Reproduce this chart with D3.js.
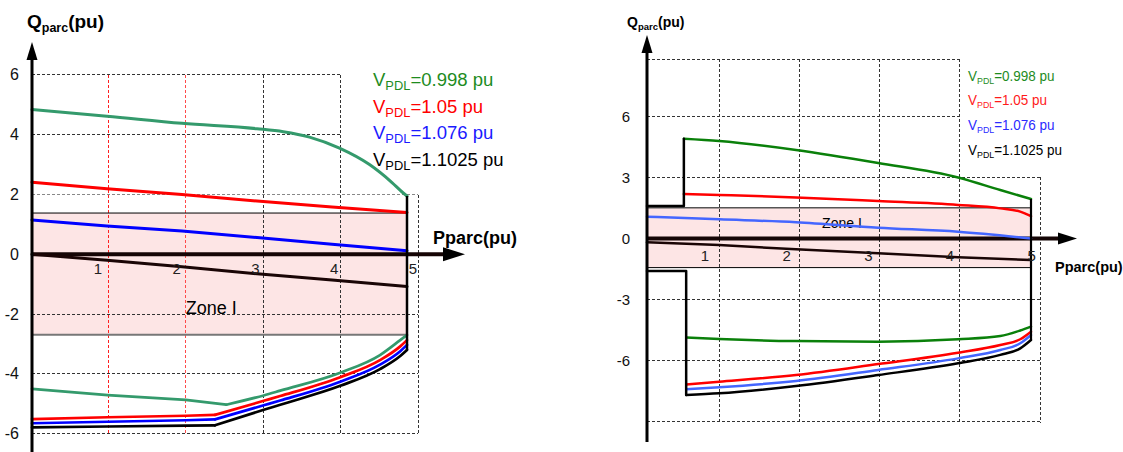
<!DOCTYPE html>
<html><head><meta charset="utf-8">
<script src="https://cdn.jsdelivr.net/npm/d3@7"></script>
<style>body{margin:0;background:#fff}svg{display:block;font-family:"Liberation Sans",Arial,sans-serif}</style>
</head><body><svg id="c" width="1123" height="452"></svg>
<script>
// ---------- data ----------
const xTickLabels = [1, 2, 3, 4, 5];
const leftYTicks = [6, 4, 2, 0, -2, -4, -6];
const rightYTicks = [6, 3, 0, -3, -6];
const leftGridY = [6, 4, 2, -2, -4, -6];
const rightGridY = [8.8, 6, 3, -3, -6, -9];
const legendValues = ["0.998", "1.05", "1.076", "1.1025"];

const leftZone = [-2.69, 1.38];
const rightZone = [-1.43, 1.51];

// left chart series [P, Q]
const leftGreenUp = [[0,4.84],[1,4.62],[2,4.38],[3,4.2],[3.35,4.1],[3.7,3.92],[4.1,3.55],[4.5,3.0],[4.8,2.4],[4.95,2.05],[5,1.95]];
const leftRedUp = [[0,2.41],[1,2.19],[2,2.0],[3,1.78],[4,1.58],[5,1.40]];
const leftBlueUp = [[0,1.15],[1,0.95],[2,0.78],[3,0.56],[4,0.34],[5,0.12]];
const leftBlackUp = [[0,0],[1,-0.2],[2,-0.42],[3,-0.65],[4,-0.86],[5,-1.08]];
const leftGreenLow = [[0,-4.5],[1.01,-4.71],[2.05,-4.87],[2.59,-5.03],[3.09,-4.72],[3.31,-4.56],[4.11,-3.96],[4.64,-3.37],[4.91,-2.87],[5,-2.7]];
const leftRedLow = [[0,-5.51],[1.01,-5.45],[2.05,-5.40],[2.44,-5.37],[3.09,-4.90],[3.31,-4.74],[4.11,-4.11],[4.64,-3.54],[4.91,-3.08],[5,-2.87]];
const leftBlueLow = [[0,-5.65],[1.01,-5.6],[2.05,-5.55],[2.44,-5.52],[3.09,-5.05],[3.31,-4.89],[4.11,-4.26],[4.64,-3.69],[4.91,-3.24],[5,-3.03]];
const leftBlackLow = [[0,-5.79],[1.01,-5.76],[2.05,-5.73],[2.44,-5.72],[3.09,-5.20],[3.31,-5.03],[4.11,-4.40],[4.64,-3.84],[4.91,-3.4],[5,-3.2]];
const leftLowKnee = 3; // index of the sharp corner in each lower series

// right chart series [P, Q]
const rightGreenUp = [[0.48,4.9],[0.94,4.79],[1.94,4.35],[3.01,3.71],[4.05,3.0],[4.6,2.38],[5,1.94]];
const rightRedUp = [[0.48,2.19],[0.94,2.14],[1.94,2.02],[3.01,1.84],[4.05,1.65],[4.6,1.48],[4.86,1.32],[5,1.1]];
const rightBlueUp = [[0,1.07],[0.94,0.94],[1.94,0.8],[3.01,0.53],[4.05,0.33],[5,0.0]];
const rightBlackUp = [[0,-0.19],[0.94,-0.32],[1.94,-0.53],[3.01,-0.73],[4.05,-0.92],[5,-1.06]];
const rightGreenLow = [[0.51,-4.87],[0.94,-4.94],[1.94,-5.04],[3.01,-5.07],[4.05,-4.95],[4.6,-4.79],[4.86,-4.52],[5,-4.33]];
const rightRedLow = [[0.51,-7.17],[0.94,-7.04],[1.94,-6.71],[3.01,-6.17],[4.05,-5.61],[4.6,-5.23],[4.86,-4.95],[5,-4.58]];
const rightBlueLow = [[0.51,-7.41],[0.94,-7.31],[1.94,-7.0],[3.01,-6.46],[4.05,-5.89],[4.6,-5.48],[4.86,-5.15],[5,-4.74]];
const rightBlackLow = [[0.51,-7.69],[0.94,-7.61],[1.94,-7.25],[3.01,-6.71],[4.05,-6.13],[4.6,-5.72],[4.86,-5.4],[5,-4.99]];
const rightStepUpper = [[0,1.6],[0.48,1.6],[0.48,4.9]];
const rightStepLower = [[0,-1.6],[0.51,-1.6],[0.51,-7.69]];

// ---------- drawing ----------
const svg = d3.select("#c");

function drawChart(cfg) {
  const g = svg.append("g");
  const {x, y, gx, lx} = cfg;
  // zone
  g.append("rect").attr("x", x(0)).attr("width", x(5) - x(0))
    .attr("y", y(cfg.zone[1])).attr("height", y(cfg.zone[0]) - y(cfg.zone[1]))
    .attr("fill", "#fde5e5");
  // horizontal grid
  cfg.gridY.forEach(v => {
    const end = (v > cfg.fullGridMax) ? gx(4) : gx(5);
    g.append("line").attr("x1", x(0)).attr("x2", end).attr("y1", y(v)).attr("y2", y(v))
      .attr("stroke", cfg.gridColorY(v)).attr("stroke-width", 1).attr("stroke-dasharray", "3,2")
      .attr("shape-rendering", "crispEdges");
  });
  // vertical grid
  [1,2,3,4,5].forEach(k => {
    const top = k === 5 ? cfg.fullGridMax : d3.max(cfg.gridY);
    g.append("line").attr("x1", gx(k)).attr("x2", gx(k)).attr("y1", y(top)).attr("y2", y(d3.min(cfg.gridY)) + 1)
      .attr("stroke", cfg.gridColorX(k)).attr("stroke-width", 1).attr("stroke-dasharray", "3,2")
      .attr("shape-rendering", "crispEdges");
  });
  // zone borders
  g.append("line").attr("x1", x(0)).attr("x2", x(5)).attr("y1", y(cfg.zone[1])).attr("y2", y(cfg.zone[1]))
    .attr("stroke", cfg.zoneTopColor).attr("stroke-width", cfg.zoneTopW);
  g.append("line").attr("x1", x(0)).attr("x2", x(5)).attr("y1", y(cfg.zone[0])).attr("y2", y(cfg.zone[0]))
    .attr("stroke", cfg.zoneBotColor).attr("stroke-width", cfg.zoneBotW);
  // zone label
  g.append("text").attr("x", x(cfg.zoneLabelP)).attr("y", y(cfg.zoneLabelQ))
    .attr("font-size", cfg.zoneFont).attr("dominant-baseline", "middle").text("Zone I");

  // x axis
  const ax0 = y(0);
  g.append("line").attr("x1", x(0)).attr("x2", cfg.xAxisEnd).attr("y1", ax0).attr("y2", ax0)
    .attr("stroke", "#150505").attr("stroke-width", 4);
  g.append("path").attr("d", `M${cfg.xAxisEnd - 2},${ax0 - cfg.xArrowH}L${cfg.xAxisTip},${ax0}L${cfg.xAxisEnd - 2},${ax0 + cfg.xArrowH}Z`).attr("fill", "#000");

  // curves
  const line = d3.line().x(d => x(d[0])).y(d => y(d[1]));
  cfg.series.forEach(s => {
    const parts = s.knee != null
      ? [[s.data.slice(0, s.knee + 1), d3.curveLinear], [s.data.slice(s.knee), d3.curveMonotoneX]]
      : [[s.data, s.curve || d3.curveLinear]];
    parts.forEach(([pts, cv]) => {
      g.append("path").datum(pts).attr("d", line.curve(cv))
        .attr("fill", "none").attr("stroke", s.color).attr("stroke-width", s.w)
        .attr("stroke-linejoin", "round").attr("stroke-linecap", "round");
    });
  });
  // boundary at P=5
  g.append("line").attr("x1", x(5)).attr("x2", x(5))
    .attr("y1", y(cfg.boundTop)).attr("y2", y(cfg.boundBot))
    .attr("stroke", "#000").attr("stroke-width", cfg.boundW);

  // y axis
  g.append("line").attr("x1", x(0)).attr("x2", x(0)).attr("y1", cfg.yAxisBottom).attr("y2", cfg.yAxisTip + 14)
    .attr("stroke", "#000").attr("stroke-width", 3);
  g.append("path").attr("d", `M${x(0) - 5.5},${cfg.yAxisTip + 18}L${x(0)},${cfg.yAxisTip}L${x(0) + 5.5},${cfg.yAxisTip + 18}Z`).attr("fill", "#000");

  // y tick labels
  cfg.yTicks.forEach(v => {
    g.append("text").attr("x", cfg.yLabelX).attr("y", y(v)).attr("text-anchor", "end")
      .attr("dominant-baseline", "central").attr("font-size", cfg.yTickFont).attr("fill", "#111").text(v);
  });
  // x tick labels
  xTickLabels.forEach(v => {
    g.append("text").attr("x", lx(v)).attr("y", ax0 + cfg.xLabelDy).attr("text-anchor", "middle")
      .attr("dominant-baseline", "central").attr("font-size", cfg.xTickFont).attr("fill", "#222").text(v);
  });

  // titles
  const t = g.append("text").attr("x", cfg.titleX).attr("y", cfg.titleY).attr("font-weight", "bold").attr("font-size", cfg.titleFont);
  t.append("tspan").text("Q");
  t.append("tspan").attr("font-size", cfg.titleSub).attr("dy", cfg.titleSubDy).text("parc");
  t.append("tspan").attr("dy", -cfg.titleSubDy).text("(pu)");
  g.append("text").attr("x", cfg.pLabelX).attr("y", cfg.pLabelY).attr("font-weight", "bold")
    .attr("font-size", cfg.pLabelFont).attr("dominant-baseline", "central").text("Pparc(pu)");

  // legend
  const lg = g.append("g").attr("transform", `translate(${cfg.legX},${cfg.legY}) scale(${cfg.legSX},1)`);
  legendValues.forEach((v, i) => {
    const tt = lg.append("text").attr("x", 0).attr("y", i * cfg.legStep).attr("font-size", cfg.legFont).attr("fill", cfg.legColors[i]);
    tt.append("tspan").text("V");
    tt.append("tspan").attr("font-size", cfg.legSub).attr("dy", cfg.legSubDy).text("PDL");
    tt.append("tspan").attr("dy", -cfg.legSubDy).text("=" + v + " pu");
  });
}

// left chart
const xL = d3.scaleLinear().domain([0, 5]).range([32, 407]);
const yL = d3.scaleLinear().domain([-6, 6]).range([433.7, 74.9]);
const gxL = d3.scaleLinear().domain([0, 5]).range([30.5, 418]);
const lxL = d3.scaleLinear().domain([1, 5]).range([98, 413]);
drawChart({
  x: xL, y: yL, gx: gxL, lx: lxL,
  zone: leftZone, gridY: leftGridY, fullGridMax: 2,
  gridColorY: v => v === 2 ? "#888" : "#333",
  gridColorX: k => k === 1 ? "#ff2020" : (k === 2 ? "#ff4a4a" : "#333"),
  zoneTopColor: "#000", zoneTopW: 1, zoneBotColor: "#777", zoneBotW: 1.8,
  zoneLabelP: 2.05, zoneLabelQ: -1.85, zoneFont: 18,
  xAxisEnd: 445, xAxisTip: 465, xArrowH: 7,
  series: [
    {data: leftGreenUp, color: "#349a6c", w: 3, curve: d3.curveMonotoneX},
    {data: leftRedUp, color: "#ff0000", w: 3},
    {data: leftBlueUp, color: "#0000ff", w: 3},
    {data: leftBlackUp, color: "#1a0505", w: 3},
    {data: leftGreenLow, color: "#349a6c", w: 2.7, knee: leftLowKnee},
    {data: leftRedLow, color: "#ff0000", w: 2.7, knee: leftLowKnee},
    {data: leftBlueLow, color: "#0000ff", w: 2.7, knee: leftLowKnee},
    {data: leftBlackLow, color: "#000", w: 2.7, knee: leftLowKnee}
  ],
  boundTop: leftGreenUp[leftGreenUp.length - 1][1], boundBot: leftBlackLow[leftBlackLow.length - 1][1], boundW: 2.5,
  yAxisBottom: 452, yAxisTip: 42,
  yTicks: leftYTicks, yLabelX: 19, yTickFont: 16,
  xLabelDy: 14, xTickFont: 15,
  titleX: 27, titleY: 28, titleFont: 19, titleSub: 12.5, titleSubDy: 4,
  pLabelX: 433, pLabelY: 238, pLabelFont: 18,
  legX: 373, legY: 86, legStep: 26.6, legFont: 18, legSub: 12.5, legSubDy: 4, legSX: 1.03,
  legColors: ["#1e8c1e", "#ff0000", "#1a1aff", "#000"]
});

// right chart
const xR = d3.scaleLinear().domain([0, 5]).range([647, 1031]);
const yR = d3.scaleLinear().domain([-9, 9]).range([421.65, 55.35]);
const gxR = d3.scaleLinear().domain([0, 5]).range([638.75, 1040]);
const lxR = d3.scaleLinear().domain([1, 5]).range([705, 1031.7]);
drawChart({
  x: xR, y: yR, gx: gxR, lx: lxR,
  zone: rightZone, gridY: rightGridY, fullGridMax: 3,
  gridColorY: v => "#333",
  gridColorX: k => "#333",
  zoneTopColor: "#555", zoneTopW: 1.6, zoneBotColor: "#000", zoneBotW: 1,
  zoneLabelP: 2.28, zoneLabelQ: 0.72, zoneFont: 14,
  xAxisEnd: 1060, xAxisTip: 1077, xArrowH: 6,
  series: [
    {data: rightGreenUp, color: "#0a800a", w: 2.5, curve: d3.curveMonotoneX},
    {data: rightRedUp, color: "#ff0000", w: 2.5, curve: d3.curveMonotoneX},
    {data: rightBlueUp, color: "#4466ff", w: 2.5, curve: d3.curveMonotoneX},
    {data: rightBlackUp, color: "#1a0505", w: 2.5},
    {data: rightGreenLow, color: "#0a800a", w: 2.5, curve: d3.curveMonotoneX},
    {data: rightRedLow, color: "#ff0000", w: 2.5, curve: d3.curveMonotoneX},
    {data: rightBlueLow, color: "#4466ff", w: 2.5, curve: d3.curveMonotoneX},
    {data: rightBlackLow, color: "#000", w: 2.5, curve: d3.curveMonotoneX},
    {data: rightStepUpper, color: "#000", w: 2.5},
    {data: rightStepLower, color: "#000", w: 2.5}
  ],
  boundTop: rightGreenUp[rightGreenUp.length - 1][1], boundBot: rightBlackLow[rightBlackLow.length - 1][1], boundW: 2.2,
  yAxisBottom: 442, yAxisTip: 35,
  yTicks: rightYTicks, yLabelX: 630, yTickFont: 15,
  xLabelDy: 17, xTickFont: 15,
  titleX: 627, titleY: 27, titleFont: 14, titleSub: 9.5, titleSubDy: 3,
  pLabelX: 1055, pLabelY: 267, pLabelFont: 14.5,
  legX: 968, legY: 80.5, legStep: 24.7, legFont: 14.5, legSub: 9.5, legSubDy: 3, legSX: 0.93,
  legColors: ["#1e8c1e", "#ff1a1a", "#2b2bff", "#000"]
});
</script></body></html>
